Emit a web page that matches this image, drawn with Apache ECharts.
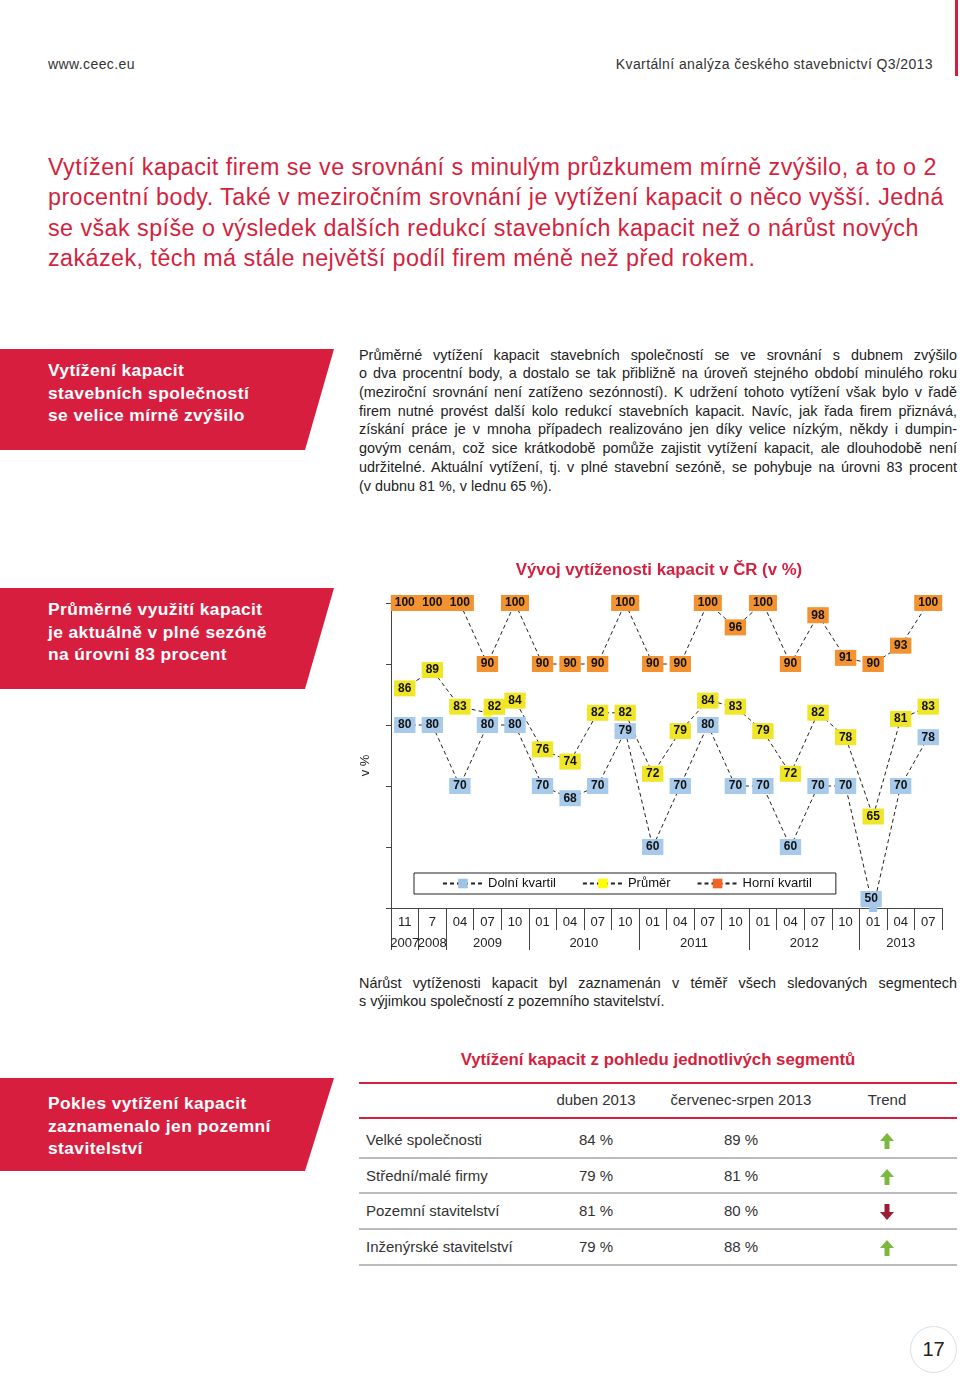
<!DOCTYPE html>
<html>
<head>
<meta charset="utf-8">
<script src="https://cdn.jsdelivr.net/npm/echarts@6/dist/echarts.min.js"></script>
<style>
  html, body { margin: 0; padding: 0; background: #fff; }
  body { width: 960px; height: 1377px; position: relative; overflow: hidden; font-family: "Liberation Sans", Arial, sans-serif; color: #222; }
  .abs { position: absolute; }
  .banner { position: absolute; left: 0; width: 334px; background: #d81e3f; color: #fff; font-weight: bold; font-size: 17.4px; letter-spacing: 0.4px; line-height: 22.6px; clip-path: polygon(0 0, 100% 0, calc(100% - 29px) 100%, 0 100%); box-sizing: border-box; padding-left: 48px; white-space: nowrap; }
  .heading { left: 48px; top: 152px; font-size: 23.3px; letter-spacing: 0.45px; line-height: 30.3px; color: #d51f3e; white-space: nowrap; }
  .para { left: 359px; width: 598px; font-size: 14.4px; line-height: 18.7px; color: #222; }
  .jl { display: block; white-space: nowrap; }
  .tcell { position: absolute; font-size: 15px; color: #333; white-space: nowrap; transform: translate(-50%, -50%); }
  .tlab { position: absolute; left: 366px; font-size: 15px; color: #333; white-space: nowrap; transform: translateY(-50%); }
  .hline { position: absolute; left: 359px; width: 598px; }
</style>
</head>
<body>
<div class="abs" style="left:955px;top:0;width:3px;height:76px;background:#d81e3f"></div>
<div class="abs" style="left:48px;top:56px;font-size:14px;letter-spacing:0.4px;color:#333">www.ceec.eu</div>
<div class="abs" style="right:27px;top:56px;font-size:14px;letter-spacing:0.4px;color:#333;white-space:nowrap">Kvartální analýza českého stavebnictví Q3/2013</div>

<div class="abs heading">Vytížení kapacit firem se ve srovnání s minulým průzkumem mírně zvýšilo, a to o 2<br>procentní body. Také v meziročním srovnání je vytížení kapacit o něco vyšší. Jedná<br>se však spíše o výsledek dalších redukcí stavebních kapacit než o nárůst nových<br>zakázek, těch má stále největší podíl firem méně než před rokem.</div>

<div class="banner" style="top:349px;height:101px;padding-top:10px">Vytížení kapacit<br>stavebních společností<br>se velice mírně zvýšilo</div>

<div class="abs para" style="top:345.6px">
<span class="jl j">Průměrné vytížení kapacit stavebních společností se ve srovnání s dubnem zvýšilo</span>
<span class="jl j">o dva procentní body, a dostalo se tak přibližně na úroveň stejného období minulého roku</span>
<span class="jl j">(meziroční srovnání není zatíženo sezónností). K udržení tohoto vytížení však bylo v řadě</span>
<span class="jl j">firem nutné provést další kolo redukcí stavebních kapacit. Navíc, jak řada firem přiznává,</span>
<span class="jl j">získání práce je v mnoha případech realizováno jen díky velice nízkým, někdy i dumpin-</span>
<span class="jl j">govým cenám, což sice krátkodobě pomůže zajistit vytížení kapacit, ale dlouhodobě není</span>
<span class="jl j">udržitelné. Aktuální vytížení, tj. v plné stavební sezóně, se pohybuje na úrovni 83 procent</span>
<span class="jl">(v dubnu 81 %, v lednu 65 %).</span>
</div>

<div class="banner" style="top:588px;height:101px;padding-top:10px">Průměrné využití kapacit<br>je aktuálně v plné sezóně<br>na úrovni 83 procent</div>

<div id="chart" class="abs" style="left:340px;top:540px;width:620px;height:420px"></div>

<div class="abs para" style="top:973.6px">
<span class="jl j">Nárůst vytíženosti kapacit byl zaznamenán v téměř všech sledovaných segmentech</span>
<span class="jl">s výjimkou společností z pozemního stavitelství.</span>
</div>

<div class="banner" style="top:1078px;height:93px;padding-top:14px">Pokles vytížení kapacit<br>zaznamenalo jen pozemní<br>stavitelství</div>

<div class="abs" style="left:359px;width:598px;top:1050px;text-align:center;font-weight:bold;font-size:16.8px;color:#d51f3e">Vytížení kapacit z pohledu jednotlivých segmentů</div>
<div class="hline" style="top:1082px;height:2px;background:#d51f3e"></div>
<div class="tcell" style="left:596px;top:1099px">duben 2013</div>
<div class="tcell" style="left:741px;top:1099px">červenec-srpen 2013</div>
<div class="tcell" style="left:887px;top:1099px">Trend</div>
<div class="hline" style="top:1117px;height:2px;background:#d51f3e"></div>
<div id="rows"></div>

<div class="abs" style="left:910px;top:1326px;width:45px;height:45px;border:1.5px solid #ddd;border-radius:50%;text-align:center;line-height:45px;font-size:20px;color:#222">17</div>

<script>
// ---- chart data ----
const months = ['11','7','04','07','10','01','04','07','10','01','04','07','10','01','04','07','10','01','04','07'];
const years = ['2007','2008','2009','2010','2011','2012','2013'];
const yearSpans = [1,1,3,4,4,4,3];
const lowerQuartile = [80,80,70,80,80,70,68,70,79,60,70,80,70,70,60,70,70,50,70,78];
const mean = [86,89,83,82,84,76,74,82,82,72,79,84,83,79,72,82,78,65,81,83];
const upperQuartile = [100,100,100,90,100,90,90,90,100,90,90,100,96,100,90,98,91,90,93,100];
const seriesNames = ['Dolní kvartil','Průměr','Horní kvartil'];
const yTicks = [50,60,70,80,90,100];

// ---- table data ----
const segments = ['Velké společnosti','Střední/malé firmy','Pozemní stavitelství','Inženýrské stavitelství'];
const april2013 = [84,79,81,79];
const julAug2013 = [89,81,80,88];

// table rows
(function(){
  const rows = document.getElementById('rows');
  const rowY = [1139,1175,1210,1246];
  const lineY = [1157,1192,1228,1264];
  const up = '<svg width="14" height="16" viewBox="0 0 14 16"><path d="M7 0 L14 8 L9.5 8 L9.5 16 L4.5 16 L4.5 8 L0 8 Z" fill="#7cb83f"/></svg>';
  const down = '<svg width="14" height="16" viewBox="0 0 14 16"><path d="M7 16 L14 8 L9.5 8 L9.5 0 L4.5 0 L4.5 8 L0 8 Z" fill="#9c1c34"/></svg>';
  let h = '';
  segments.forEach((s,i)=>{
    h += '<div class="tlab" style="top:'+rowY[i]+'px">'+s+'</div>';
    h += '<div class="tcell" style="left:596px;top:'+rowY[i]+'px">'+april2013[i]+' %</div>';
    h += '<div class="tcell" style="left:741px;top:'+rowY[i]+'px">'+julAug2013[i]+' %</div>';
    h += '<div class="tcell" style="left:887px;top:'+(rowY[i]+2)+'px;line-height:0">'+(julAug2013[i]>=april2013[i]?up:down)+'</div>';
    h += '<div class="hline" style="top:'+lineY[i]+'px;height:1.5px;background:#bbb"></div>';
  });
  rows.innerHTML = h;
})();

// justify lines
document.querySelectorAll('.jl.j').forEach(el=>{
  el.style.display='inline-block';
  const w = el.getBoundingClientRect().width;
  const spaces = (el.textContent.match(/ /g)||[]).length;
  const target = 598;
  if (spaces>0) el.style.wordSpacing = ((target - w)/spaces) + 'px';
  el.style.display='block';
});

// year axis (fine grid: boundaries and centers)
const nFine = months.length*2+1;
const yearCats = new Array(nFine).fill('');
const yearTickIdx = new Set();
let start = 0;
years.forEach((y,i)=>{
  const end = start + yearSpans[i];
  yearCats[start+end] = y;
  yearTickIdx.add(2*start);
  start = end;
});

const colors = {
  legend: ['#9dc3e6','#ffff00','#f26522'],
  box: ['#a7c9ea','#f0e526','#f29230']
};
const dataSets = [lowerQuartile, mean, upperQuartile];

function buildData(arr, si){
  return arr.map((v,i)=>{
    const item = {value:v};
    if (si===1 && i===3) item.label = {offset:[7,-6]};
    if (si===0 && v===yTicks[0]) item.label = {offset:[-2,-9]};
    return item;
  });
}

const chart = echarts.init(document.getElementById('chart'));
chart.setOption({
  animation: false,
  textStyle: {fontFamily: '"Liberation Sans", Arial, sans-serif'},
  title: {
    text: 'Vývoj vytíženosti kapacit v ČR (v %)',
    left: 314, top: 17, textAlign: 'center',
    textStyle: {color:'#d51f3e', fontSize:16.8, fontWeight:'bold', fontFamily:'"Liberation Sans", Arial, sans-serif'}
  },
  legend: {
    data: seriesNames,
    left: 74, top: 333,
    itemWidth: 40, itemHeight: 12, itemGap: 26,
    borderColor: '#222', borderWidth: 1, borderRadius: 0,
    padding: [4, 24, 4, 28],
    textStyle: {fontSize: 13, color: '#111'}
  },
  grid: {left: 51, top: 63, width: 551, height: 305},
  xAxis: [{
    type: 'category', data: months, boundaryGap: true, position: 'bottom',
    axisLine: {lineStyle: {color:'#444', width:1}},
    axisTick: {show: true, length: 22, interval: 0, alignWithLabel: false, lineStyle: {color:'#444'}},
    axisLabel: {interval: 0, margin: 8, fontSize: 13, color: '#222'}
  },{
    type: 'category', data: yearCats, boundaryGap: false, position: 'bottom', offset: 0,
    axisLine: {show: false},
    axisTick: {show: true, length: 42, interval: (i)=>yearTickIdx.has(i), lineStyle: {color:'#444'}},
    axisLabel: {interval: 0, margin: 29, fontSize: 13, color: '#222'}
  }],
  yAxis: {
    type: 'value', min: 50, max: 100, interval: 10,
    name: 'v %', nameLocation: 'middle', nameGap: 19, nameRotate: 90,
    nameTextStyle: {fontSize: 13, color: '#222', padding: [0, 20, 0, 0]},
    axisLine: {show: true, lineStyle: {color:'#444'}},
    axisTick: {show: true, length: 5, lineStyle: {color:'#444'}},
    axisLabel: {show: false},
    splitLine: {show: false}
  },
  series: dataSets.map((arr, si)=>({
    name: seriesNames[si],
    type: 'line',
    data: buildData(arr, si),
    symbol: 'rect', symbolSize: 8,
    itemStyle: {color: colors.legend[si]},
    lineStyle: {color: '#222', width: 1, type: [4,3]},
    label: {
      show: true, position: 'inside', formatter: '{c}',
      backgroundColor: colors.box[si], padding: [2,4,2,4],
      fontWeight: 'bold', fontSize: 12, color: '#111',
      fontFamily: 'Arial, "Liberation Sans", sans-serif'
    },
    emphasis: {disabled: true}
  }))
});
</script>
</body>
</html>
